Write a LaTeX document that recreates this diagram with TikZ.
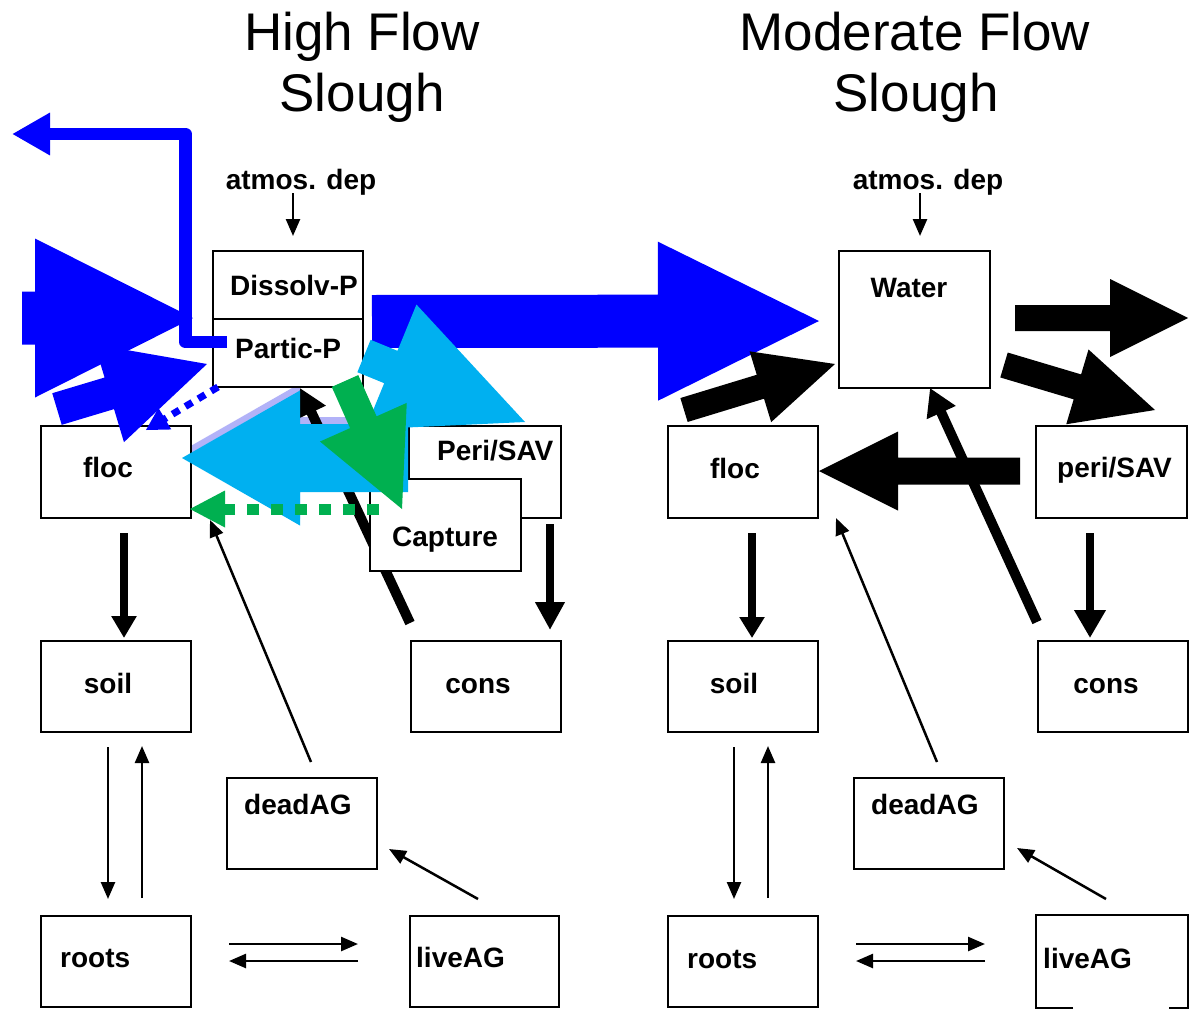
\documentclass[tikz,border=0pt]{standalone}
\usepackage{fontspec}
\setmainfont{Liberation Sans}
\usetikzlibrary{calc,arrows.meta}

\definecolor{flowblue}{RGB}{0,0,255}
\definecolor{flowcyan}{RGB}{0,176,240}
\definecolor{flowgreen}{RGB}{0,176,80}
\definecolor{flowlav}{RGB}{178,178,248}

% Block arrow: fill colour, tail, tip, shaft width, head width, head length
\newcommand\blockarrow[6]{%
  \coordinate (ba-h) at ($(#3)!#6!(#2)$);
  \fill[#1] ($(#2)!#4/2!90:(#3)$) -- ($(ba-h)!#4/2!90:(#3)$) -- ($(ba-h)!#5/2!90:(#3)$)
    -- (#3) -- ($(ba-h)!#5/2!-90:(#3)$) -- ($(ba-h)!#4/2!-90:(#3)$) -- ($(#2)!#4/2!-90:(#3)$) -- cycle;
}
% Triangular head only: fill colour, from, tip, head width, head length
\newcommand\tiphead[5]{%
  \coordinate (th-h) at ($(#3)!#5!(#2)$);
  \fill[#1] ($(th-h)!#4/2!90:(#3)$) -- (#3) -- ($(th-h)!#4/2!-90:(#3)$) -- cycle;
}

\begin{document}
\begin{tikzpicture}[x=1pt,y=-1pt,
  box/.style={draw=black, line width=2pt, fill=white, inner sep=0pt, anchor=north west},
  lbl/.style={font=\bfseries\fontsize{28}{32}\selectfont, inner sep=0pt, anchor=base west},
  ttl/.style={font=\fontsize{53}{60}\selectfont, inner sep=0pt, anchor=base},
  thinarrow/.style={line width=2.5pt, -{Triangle[length=17pt,width=14pt]}},
  downarrow/.style={line width=8pt, -{Triangle[length=#1]}},
  feedline/.style={line width=10pt, -{Triangle[length=27pt,width=30pt]}}
]
\useasboundingbox[fill=white] (0,0) rectangle (1201,1009);

% ---------- titles ----------
\node[ttl] (hTitleA) at (362,50) {High Flow};
\node[ttl] (hTitleB) at (362,111) {Slough};
\node[ttl] (mTitleA) at (915,50) {Moderate Flow};
\node[ttl] (mTitleB) at (916,111) {Slough};

% ---------- free ends of connectors ----------
% high flow slough
\coordinate (hAtmA) at (293,193);   \coordinate (hAtmB) at (293,236);
\coordinate (hFsA) at (124,533);    \coordinate (hFsB) at (124,638);
\coordinate (hPcA) at (550,524);    \coordinate (hPcB) at (550,630);
\coordinate (hSrA) at (108,747);    \coordinate (hSrB) at (108,899);
\coordinate (hRsA) at (142,898);    \coordinate (hRsB) at (142,746);
\coordinate (hRlA) at (229,944);    \coordinate (hRlB) at (358,944);
\coordinate (hLrA) at (358,961);    \coordinate (hLrB) at (229,961);
\coordinate (hLdA) at (478,899);    \coordinate (hLdB) at (389,849);
\coordinate (hDfA) at (311,762);    \coordinate (hDfB) at (210,520);
\coordinate (hCpA) at (410,623);    \coordinate (hCpB) at (300,388);
\coordinate (hInA) at (22,318);     \coordinate (hInB) at (193,318);
\coordinate (hFpA) at (57,409);     \coordinate (hFpB) at (207,364);
\coordinate (hExpS) at (227,342);   \coordinate (hExpE) at (12,134);
\coordinate (hDotS) at (218,387);   \coordinate (hDotE) at (146,430);
\coordinate (hOutA) at (372,321.5); \coordinate (hOutB) at (819,321);
\coordinate (hCyaA) at (364,356);   \coordinate (hCyaB) at (525,422);
\coordinate (hCybA) at (408,458);   \coordinate (hCybB) at (182,458);
\coordinate (hLavA) at (408,451);   \coordinate (hLavB) at (182,451);
\coordinate (hGrA) at (345,381);    \coordinate (hGrB) at (402,509);
\coordinate (hGdA) at (379,509);    \coordinate (hGdB) at (190,509);
% moderate flow slough
\coordinate (mAtmA) at (920,193);   \coordinate (mAtmB) at (920,236);
\coordinate (mFsA) at (752,533);    \coordinate (mFsB) at (752,638);
\coordinate (mPcA) at (1090,533);   \coordinate (mPcB) at (1090,638);
\coordinate (mSrA) at (734,747);    \coordinate (mSrB) at (734,899);
\coordinate (mRsA) at (768,898);    \coordinate (mRsB) at (768,746);
\coordinate (mRlA) at (856,944);    \coordinate (mRlB) at (985,944);
\coordinate (mLrA) at (985,961);    \coordinate (mLrB) at (856,961);
\coordinate (mLdA) at (1106,899);   \coordinate (mLdB) at (1017,848);
\coordinate (mDfA) at (937,762);    \coordinate (mDfB) at (836,518);
\coordinate (mCwA) at (1037,622);   \coordinate (mCwB) at (930,388);
\coordinate (mFwA) at (684,410);    \coordinate (mFwB) at (835,364);
\coordinate (mOutA) at (1015,318);  \coordinate (mOutB) at (1188,318);
\coordinate (mWpA) at (1004,365);   \coordinate (mWpB) at (1155,410);
\coordinate (mPfA) at (1020,471);   \coordinate (mPfB) at (819,471);

% ---------- thin and plain black flows ----------
\draw[thinarrow] (hAtmA) -- (hAtmB);
\draw[thinarrow] (mAtmA) -- (mAtmB);
\draw[downarrow={22pt,width=24pt}] (hFsA) -- (hFsB);
\draw[downarrow={28pt,width=28pt}] (hPcA) -- (hPcB);
\draw[downarrow={21pt,width=24pt}] (mFsA) -- (mFsB);
\draw[downarrow={28pt,width=30pt}] (mPcA) -- (mPcB);
\foreach \a/\b in {hSrA/hSrB,hRsA/hRsB,hRlA/hRlB,hLrA/hLrB,hLdA/hLdB,hDfA/hDfB,
                   mSrA/mSrB,mRsA/mRsB,mRlA/mRlB,mLrA/mLrB,mLdA/mLdB,mDfA/mDfB}
  \draw[thinarrow] (\a) -- (\b);

% shadow edge of the return flow to floc, under the feedback line
\blockarrow{flowlav}{hLavA}{hLavB}{68pt}{135pt}{118pt}
\draw[feedline] (hCpA) -- (hCpB);
\draw[feedline] (mCwA) -- (mCwB);

% ---------- compartments ----------
\node[box, minimum width=150pt, minimum height=68pt] (hDis) at (212,250) {};
\node[box, minimum width=150pt, minimum height=68pt] (hPar) at (212,318) {};
\node[box, minimum width=150pt, minimum height=92pt] (hFloc) at (40,425) {};
\node[box, minimum width=152pt, minimum height=92pt] (hPeri) at (408,425) {};
\node[box, minimum width=151pt, minimum height=92pt] (hCap) at (369,478) {};
\node[box, minimum width=150pt, minimum height=91pt] (hSoil) at (40,640) {};
\node[box, minimum width=150pt, minimum height=91pt] (hCons) at (410,640) {};
\node[box, minimum width=150pt, minimum height=91pt] (hDead) at (226,777) {};
\node[box, minimum width=150pt, minimum height=91pt] (hRoots) at (40,915) {};
\node[box, minimum width=149pt, minimum height=91pt] (hLive) at (409,915) {};

\node[box, minimum width=151pt, minimum height=137pt] (mWater) at (838,250) {};
\node[box, minimum width=150pt, minimum height=92pt] (mFloc) at (667,425) {};
\node[box, minimum width=151pt, minimum height=92pt] (mPeri) at (1035,425) {};
\node[box, minimum width=150pt, minimum height=91pt] (mSoil) at (667,640) {};
\node[box, minimum width=150pt, minimum height=91pt] (mCons) at (1037,640) {};
\node[box, minimum width=150pt, minimum height=91pt] (mDead) at (853,777) {};
\node[box, minimum width=150pt, minimum height=91pt] (mRoots) at (667,915) {};
\node[box, draw=none, minimum width=150pt, minimum height=91pt] (mLive) at (1036,915) {};
\draw[line width=2pt] ($(mLive.south west)+(37,0)$) -- (mLive.south west) -- (mLive.north west)
  -- (mLive.north east) -- (mLive.south east) -- ($(mLive.south east)+(-19,0)$);

% ---------- phosphorus flows, high flow slough ----------
\blockarrow{flowblue}{hInA}{hInB}{53pt}{159pt}{158pt}
\blockarrow{flowblue}{hFpA}{hFpB}{33pt}{102pt}{102pt}
\draw[flowblue, line width=12.5pt, line join=round, -{Triangle[length=38pt,width=40pt]}]
  (hExpS) -| ([xshift=173.5pt]hExpE) -- (hExpE);
\draw[flowblue, line width=7pt, dash pattern=on 8pt off 7pt] (hDotS) -- ($(hDotE)!20pt!(hDotS)$);
\tiphead{flowblue}{hDotS}{hDotE}{25pt}{22pt}
\blockarrow{flowblue}{hOutA}{hOutB}{53pt}{159pt}{161pt}
\blockarrow{flowcyan}{hCyaA}{hCyaB}{35pt}{135pt}{145pt}
\blockarrow{flowcyan}{hCybA}{hCybB}{68pt}{135pt}{118pt}
\blockarrow{flowgreen}{hGrA}{hGrB}{29pt}{95pt}{95pt}
\draw[flowgreen, line width=11pt, dash pattern=on 12pt off 12pt] (hGdA) -- ($(hGdB)!34pt!(hGdA)$);
\tiphead{flowgreen}{hGdA}{hGdB}{37pt}{35pt}

% ---------- flows, moderate flow slough ----------
\blockarrow{black}{mFwA}{mFwB}{25pt}{74pt}{78pt}
\blockarrow{black}{mOutA}{mOutB}{26pt}{78pt}{78pt}
\blockarrow{black}{mWpA}{mWpB}{26pt}{78pt}{81pt}
\blockarrow{black}{mPfA}{mPfB}{27pt}{79pt}{79pt}

% ---------- labels ----------
\node[lbl, anchor=base] (hAtm-t) at (301,189) {atmos. dep};
\node[lbl] (hDis-t) at (230,295) {Dissolv-P};
\node[lbl] (hPar-t) at (235,358) {Partic-P};
\node[lbl, anchor=base] (hFloc-t) at (108,477) {floc};
\node[lbl] (hPeri-t) at (437,460) {Peri/SAV};
\node[lbl] (hCap-t) at (392,546) {Capture};
\node[lbl, anchor=base] (hSoil-t) at (108,693) {soil};
\node[lbl, anchor=base] (hCons-t) at (478,693) {cons};
\node[lbl] (hDead-t) at (244,814) {deadAG};
\node[lbl] (hRoots-t) at (60,967) {roots};
\node[lbl] (hLive-t) at (416,967) {liveAG};

\node[lbl, anchor=base] (mAtm-t) at (928,189) {atmos. dep};
\node[lbl, anchor=base] (mWater-t) at (909,297) {Water};
\node[lbl, anchor=base] (mFloc-t) at (735,478) {floc};
\node[lbl] (mPeri-t) at (1057,477) {peri/SAV};
\node[lbl, anchor=base] (mSoil-t) at (734,693) {soil};
\node[lbl, anchor=base] (mCons-t) at (1106,693) {cons};
\node[lbl] (mDead-t) at (871,814) {deadAG};
\node[lbl] (mRoots-t) at (687,968) {roots};
\node[lbl] (mLive-t) at (1043,968) {liveAG};
\end{tikzpicture}
\end{document}
